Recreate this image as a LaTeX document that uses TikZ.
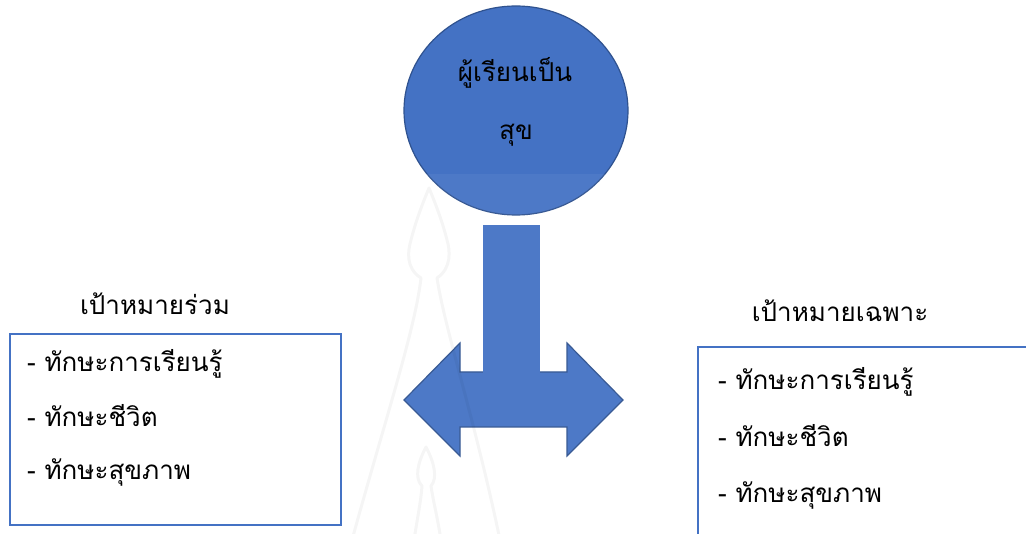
\documentclass[tikz,border=0pt]{standalone}
\usepackage{fontspec}
\newfontfamily\thai[Script=Thai]{Loma}
\usetikzlibrary{shapes.geometric}
\definecolor{shapeblue}{HTML}{4472C4}
\definecolor{edgeblue}{HTML}{2F528F}
\definecolor{boxblue}{HTML}{4472C4}
\tikzset{
  thaitext/.style={font=\thai\fontsize{26}{30}\selectfont, inner sep=0pt, text=black},
  goalbox/.style={draw=boxblue, line width=2pt, fill=none, inner sep=0pt},
  watermark/.style={draw=black, draw opacity=0.04, line width=3pt, line cap=round, line join=round},
}
\begin{document}
\begin{tikzpicture}[x=1pt,y=-1pt]
\useasboundingbox (0,0) rectangle (1026,534);
\clip (0,0) rectangle (1026,534);
\fill[white] (0,0) rectangle (1026,534);

% central circle
\node[ellipse, fill=shapeblue, draw=edgeblue, line width=1.2pt,
      minimum width=224pt, minimum height=209pt, inner sep=0pt] (happy) at (516,110.5) {};
\node[thaitext, anchor=base] (happy1) at (515,82) {ผู้เรียนเป็น};
\node[thaitext, anchor=base] (happy2) at (516,140) {สุข};

% double-headed arrow with a stem coming from the circle
\coordinate (tipL) at (404,400);
\coordinate (tipR) at (623,400);
\fill[shapeblue, draw=edgeblue, line width=1.2pt, line join=miter]
  (tipL) -- (460,343) -- (460,372) -- (567,372) -- (567,343) -- (tipR)
  -- (567,456) -- (567,427) -- (460,427) -- (460,456) -- cycle;
\fill[shapeblue] (483,225) rectangle (540,373);

% goal labels
\node[thaitext, anchor=base] (lgoal) at (155,315) {เป้าหมายร่วม};
\node[thaitext, anchor=base] (rgoal) at (840,322) {เป้าหมายเฉพาะ};

% left box
\node[goalbox, minimum width=331pt, minimum height=191pt, anchor=north west] (lbox) at (9,333) {};
\node[thaitext, anchor=base west] (l1) at (27,372) {- ทักษะการเรียนรู้};
\node[thaitext, anchor=base west] (l2) at (27,427) {- ทักษะชีวิต};
\node[thaitext, anchor=base west] (l3) at (27,480) {- ทักษะสุขภาพ};

% right box, running past the page edge
\node[goalbox, minimum width=340pt, minimum height=200pt, anchor=north west] (rbox) at (697,346) {};
\node[thaitext, anchor=base west] (r1) at (718,390) {- ทักษะการเรียนรู้};
\node[thaitext, anchor=base west] (r2) at (718,447) {- ทักษะชีวิต};
\node[thaitext, anchor=base west] (r3) at (718,503) {- ทักษะสุขภาพ};

% faint background emblem
\fill[white, opacity=0.05] (345,174) rectangle (690,534);
\draw[watermark] (352,540) .. controls (385,420) and (415,330) .. (421,278)
  .. controls (405,268) and (408,250) .. (411,240)
  .. controls (416,220) and (424,200) .. (429,188)
  .. controls (434,200) and (442,220) .. (447,240)
  .. controls (450,250) and (452,268) .. (437,278)
  .. controls (445,330) and (475,420) .. (500,540);
\draw[watermark] (414,540) .. controls (418,515) and (421,500) .. (422,486)
  .. controls (414,478) and (418,462) .. (426,447)
  .. controls (434,462) and (438,478) .. (431,486)
  .. controls (433,500) and (437,515) .. (441,540);
\end{tikzpicture}
\end{document}
